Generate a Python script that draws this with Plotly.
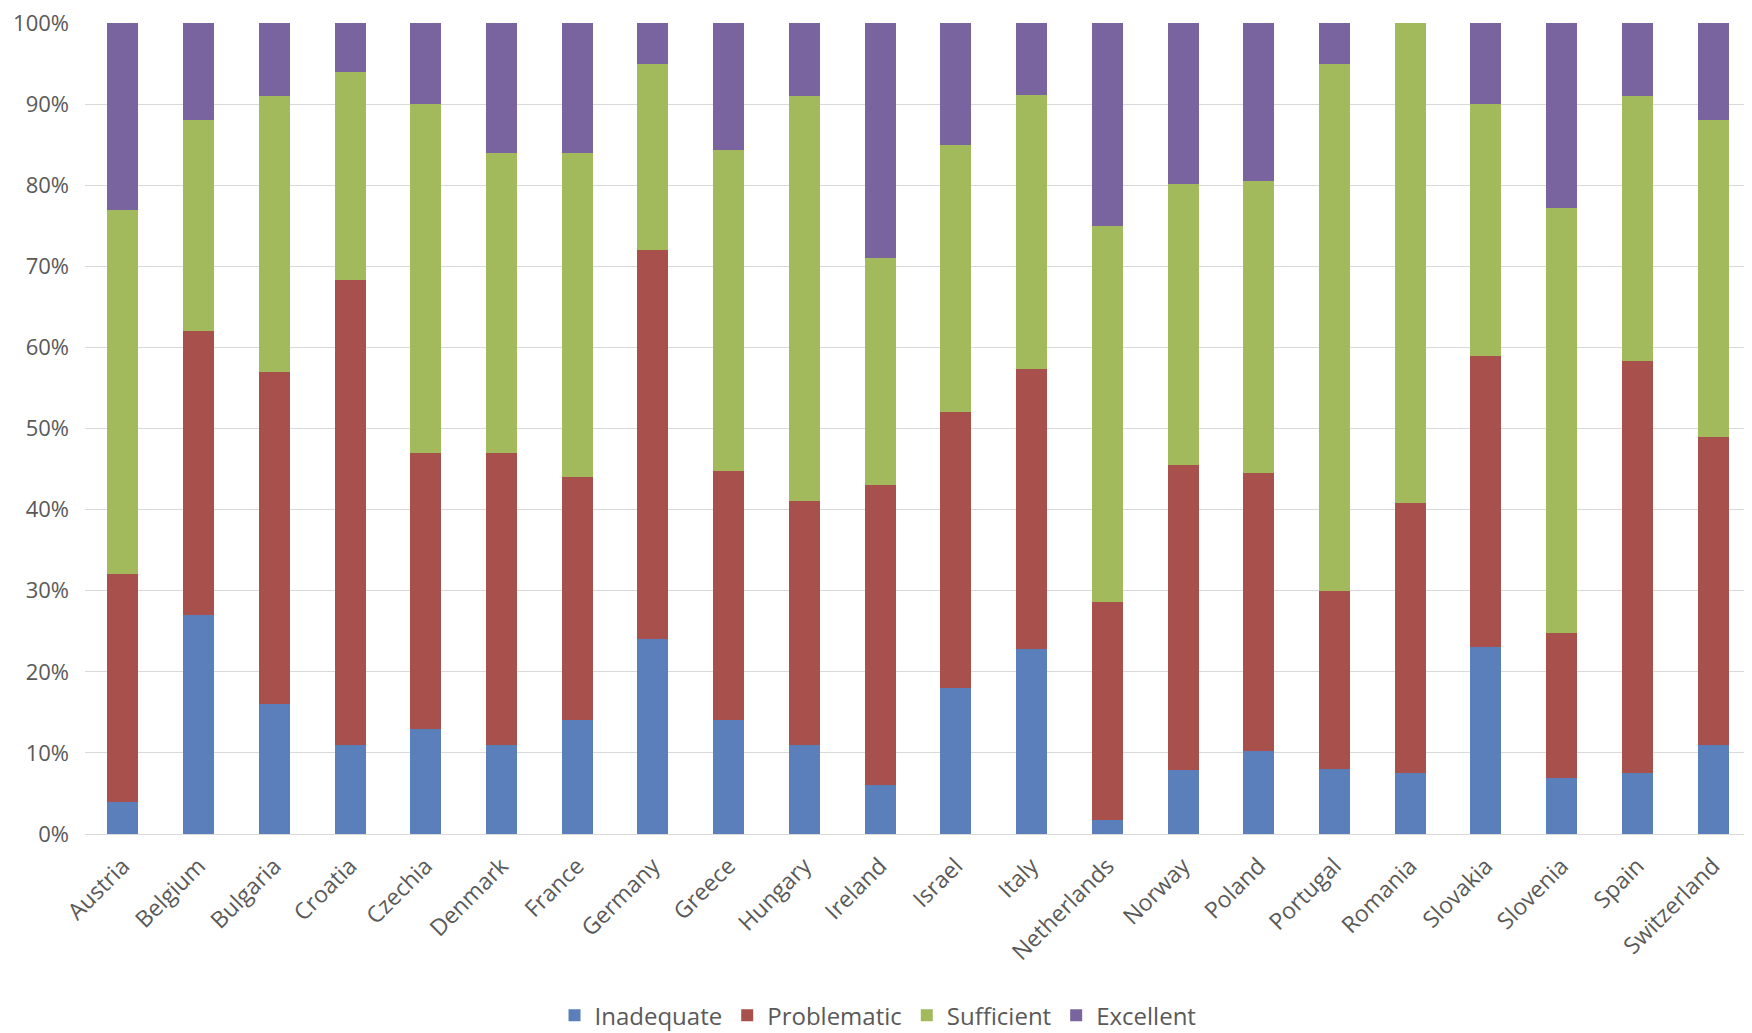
import plotly.graph_objects as go

countries = ["Austria", "Belgium", "Bulgaria", "Croatia", "Czechia", "Denmark", "France",
             "Germany", "Greece", "Hungary", "Ireland", "Israel", "Italy", "Netherlands",
             "Norway", "Poland", "Portugal", "Romania", "Slovakia", "Slovenia", "Spain",
             "Switzerland"]

inadequate = [4, 27, 16, 11, 13, 11, 14, 24, 14, 11, 6, 18, 22.8, 1.7, 7.9, 10.2, 8, 7.5, 23, 6.9, 7.5, 11]
problematic = [28, 35, 41, 57.3, 34, 36, 30, 48, 30.7, 30, 37, 34, 34.5, 26.9, 37.6, 34.3, 22, 33.3, 36, 17.9, 50.8, 38]
sufficient = [45, 26, 34, 25.7, 43, 37, 40, 23, 39.7, 50, 28, 33, 33.8, 46.4, 34.6, 36, 65, 59.2, 31, 52.4, 32.7, 39]
excellent = [23, 12, 9, 6, 10, 16, 16, 5, 15.6, 9, 29, 15, 8.9, 25, 19.9, 19.5, 5, 0, 10, 22.8, 9, 12]

series = [
    ("Inadequate", inadequate, "#5B7FBA"),
    ("Problematic", problematic, "#A8504C"),
    ("Sufficient", sufficient, "#A2B95C"),
    ("Excellent", excellent, "#79649F"),
]

fig = go.Figure()
for name, vals, col in series:
    fig.add_trace(go.Bar(x=countries, y=vals, name=name,
                         marker=dict(color=col, line=dict(width=0))))

font_family = "Open Sans, Noto Sans, sans-serif"
fig.update_layout(
    barmode="stack",
    bargap=0.59,
    width=1752, height=1033,
    margin=dict(l=77, r=9, t=15, b=207, autoexpand=False),
    paper_bgcolor="white", plot_bgcolor="white",
    font=dict(family=font_family, size=23, color="#595959"),
    legend=dict(orientation="h", x=0.476, xanchor="center", y=-0.224, yanchor="middle",
                font=dict(size=24, color="#595959"), itemwidth=30,
                tracegroupgap=0, traceorder="normal"),
    xaxis=dict(tickangle=-45, showgrid=False, showline=False, ticks="",
               automargin=False, ticklabelstandoff=13,
               tickfont=dict(size=23, color="#595959")),
    yaxis=dict(range=[0, 100.001], tick0=0, dtick=10, tickmode="linear",
               ticksuffix="%", showgrid=True, automargin=False, ticklabelstandoff=15,
               ticklabeloverflow="allow",
               gridcolor="#D9D9D9", gridwidth=1.3, zeroline=True, zerolinecolor="#D9D9D9",
               zerolinewidth=1.3, showline=False, ticks="",
               tickfont=dict(size=22, color="#595959")),
)

fig.write_html("out.html")
